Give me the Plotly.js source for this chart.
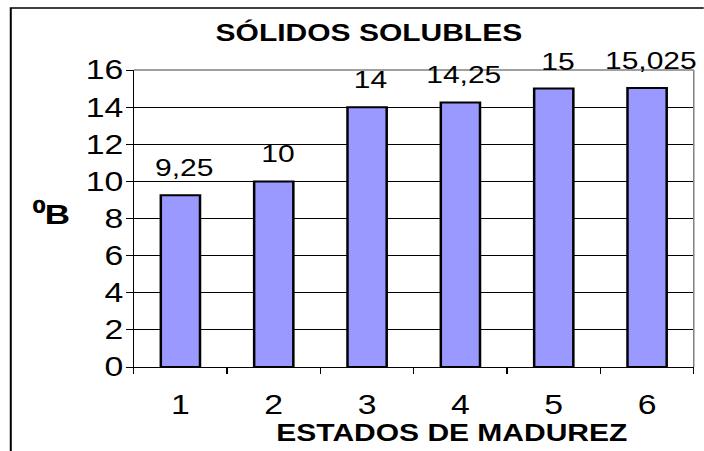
<!DOCTYPE html>
<html>
<head>
<meta charset="utf-8">
<script src="https://cdn.plot.ly/plotly-3.0.1.min.js"></script>
<style>
html,body{margin:0;padding:0;background:#fff;overflow:hidden;}
#chart{width:563.2px;height:451px;transform:scaleX(1.25);transform-origin:0 0;}
</style>
</head>
<body>
<div id="chart"></div>
<script>
const categories = ['1', '2', '3', '4', '5', '6'];
const values = [9.25, 10, 14, 14.25, 15, 15.025];
const yTicks = [0, 2, 4, 6, 8, 10, 12, 14, 16];
const chartTitle = 'SÓLIDOS SOLUBLES';
const xTitle = 'ESTADOS DE MADUREZ';
const yTitle = '⁰B';

const font = 'Liberation Sans, Arial, sans-serif';

const trace = {
  type: 'bar',
  x: categories,
  y: values,
  marker: {color: '#9999FF', line: {color: '#000000', width: 2}},
  hoverinfo: 'none'
};

const labelAnnotations = categories.map((c, i) => ({
  x: i, y: values[i], xref: 'x', yref: 'y',
  text: String(values[i]).replace('.', ','),
  showarrow: false, yanchor: 'bottom', yshift: 12, xshift: 3,
  font: {family: font, size: 24, color: '#000'}
}));

const layout = {
  width: 563.2, height: 451,
  margin: {l: 107.2, r: 8, t: 70, b: 84.3},
  paper_bgcolor: '#ffffff', plot_bgcolor: '#ffffff',
  separators: ',.',
  showlegend: false,
  bargap: 0.58,
  font: {family: font, size: 24, color: '#000'},
  title: {
    text: '<b>' + chartTitle + '</b>',
    font: {family: font, size: 24, color: '#000'},
    xref: 'container', yref: 'container',
    x: 0.524, xanchor: 'center', y: 1 - 33 / 451, yanchor: 'middle'
  },
  xaxis: {
    type: 'category',
    tickson: 'boundaries',
    ticks: 'outside', ticklen: 6, tickwidth: 1, tickcolor: '#000',
    showline: true, linecolor: '#000', linewidth: 1,
    showgrid: false, zeroline: false,
    ticklabelstandoff: 14,
    tickfont: {family: font, size: 27, color: '#000'},
    range: [-0.5, 5.5]
  },
  yaxis: {
    range: [0, 16],
    tickvals: yTicks,
    ticktext: yTicks.map(String),
    ticks: 'outside', ticklen: 5, tickwidth: 1, tickcolor: '#000',
    showline: true, linecolor: '#000', linewidth: 1,
    showgrid: true, gridcolor: '#000', gridwidth: 1,
    zeroline: false,
    ticklabelstandoff: -3,
    tickfont: {family: font, size: 27, color: '#000'}
  },
  shapes: [
    {type: 'rect', xref: 'paper', yref: 'paper', x0: -0.2196, x1: 1.2, y0: -0.6, y1: 1.209,
     line: {color: '#000', width: 1.6}, fillcolor: 'rgba(0,0,0,0)', layer: 'below'},
    {type: 'line', xref: 'paper', yref: 'paper', x0: 0, x1: 1, y0: 1, y1: 1,
     line: {color: '#808080', width: 1.5}, layer: 'above'},
    {type: 'line', xref: 'paper', yref: 'paper', x0: 1, x1: 1, y0: 0, y1: 1,
     line: {color: '#808080', width: 1.2}, layer: 'above'}
  ],
  annotations: labelAnnotations.concat([
    {xref: 'paper', yref: 'paper', x: 0.568, y: -0.22, xanchor: 'center', yanchor: 'middle',
     text: '<b>' + xTitle + '</b>', showarrow: false,
     font: {family: font, size: 24, color: '#000'}},
    {xref: 'paper', yref: 'paper', x: -0.1464, y: 0.515, xanchor: 'center', yanchor: 'middle',
     text: '<b>' + yTitle + '</b>', showarrow: false,
     font: {family: font, size: 28, color: '#000'}}
  ])
};

Plotly.newPlot('chart', [trace], layout, {staticPlot: true, displayModeBar: false});
</script>
</body>
</html>
